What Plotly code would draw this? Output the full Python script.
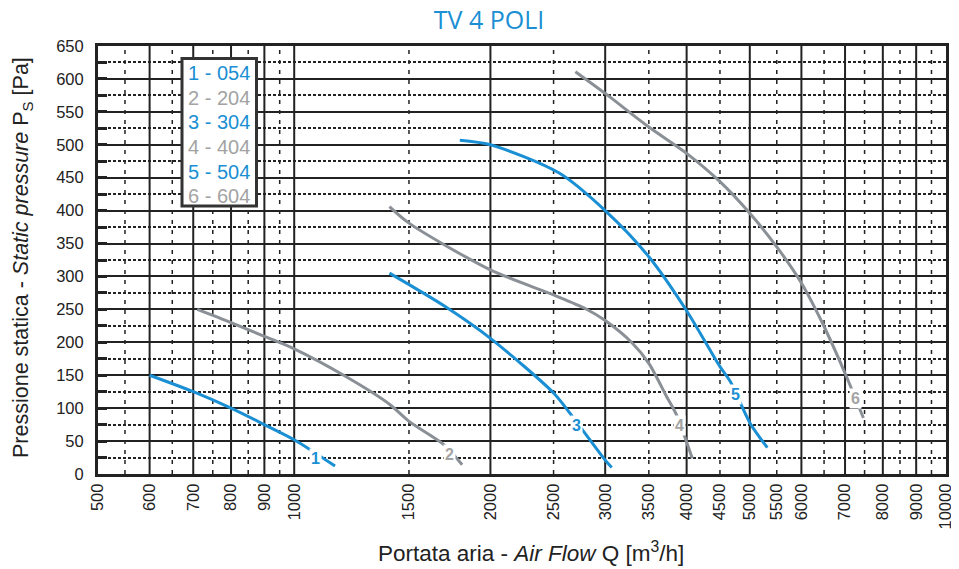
import numpy as np
import plotly.graph_objects as go

# ---------------- data ----------------
x_ticks = [500, 600, 700, 800, 900, 1000, 1500, 2000, 2500, 3000, 3500, 4000,
           4500, 5000, 5500, 6000, 7000, 8000, 9000, 10000]
x_grid_solid = [600, 700, 800, 900, 1000, 2000, 3000, 4000, 5000, 6000, 7000, 8000, 9000]
x_grid_dash = [550, 650, 750, 850, 950, 1500, 2500, 3500, 4500, 5500, 6500, 7500, 8500, 9500]
y_ticks = list(range(0, 651, 50))
y_minor = list(range(25, 651, 50))

names = ["1 - 054", "2 - 204", "3 - 304", "4 - 404", "5 - 504", "6 - 604"]

c1_x = [600, 700, 800, 900, 1000, 1155]
c1_y = [150, 125, 100, 75, 52, 12]
c2_x = [710, 800, 900, 1000, 1200, 1400, 1500, 1700, 1810]
c2_y = [250, 230, 209, 190, 148, 106, 80, 44, 14]
c3_x = [1400, 1700, 2000, 2500, 2650, 3000, 3070]
c3_y = [305, 255, 206, 123, 92, 21, 10]
c4_x = [1400, 1500, 2000, 2500, 2800, 3000, 3300, 3500, 3730, 3850, 4080]
c4_y = [406, 381, 310, 272, 251, 233, 199, 168, 117, 92, 24]
c5_x = [1795, 2000, 2550, 3000, 3500, 4000, 4500, 4670, 5000, 5320]
c5_y = [507, 500, 457, 400, 330, 248, 163, 140, 78, 40]
c6_x = [2700, 3000, 3500, 4000, 4500, 5000, 5500, 6000, 6500, 7000, 7470]
c6_y = [611, 578, 527, 487, 444, 396, 345, 290, 224, 153, 85]

label_x = [1080, 1729, 2715, 3900, 4750, 7270]
label_y = [23, 29, 74, 73, 120, 115]
label_txt = ["1", "2", "3", "4", "5", "6"]

BLUE = "#1a8fd3"
GRAY_LINE = "#8a9096"
GRAY_TXT = "#a3a3a3"
INK = "#222222"

curves = [(c1_x, c1_y), (c2_x, c2_y), (c3_x, c3_y), (c4_x, c4_y), (c5_x, c5_y), (c6_x, c6_y)]
line_cols = [BLUE, GRAY_LINE, BLUE, GRAY_LINE, BLUE, GRAY_LINE]
txt_cols = [BLUE, GRAY_TXT, BLUE, GRAY_TXT, BLUE, GRAY_TXT]

fig = go.Figure()
for (cx, cy), col, nm in zip(curves, line_cols, names):
    fig.add_trace(go.Scatter(x=cx, y=cy, mode="lines", name=nm,
                             line=dict(color=col, width=3, shape="spline", smoothing=0.8),
                             showlegend=False, hoverinfo="x+y+name"))

shapes = []
for v in x_grid_solid:
    shapes.append(dict(type="line", xref="x", yref="paper", x0=v, x1=v, y0=0, y1=1,
                       line=dict(color=INK, width=2), layer="below"))
for v in x_grid_dash:
    shapes.append(dict(type="line", xref="x", yref="paper", x0=v, x1=v, y0=0, y1=1,
                       line=dict(color=INK, width=1.5, dash="4px,6px"), layer="below"))

# page body has an 8px default margin: figure is drawn from screen (8, 8)
OFF = 8
W, H = 959 - OFF, 569 - OFF

# screen pixel -> paper helpers (plot area on screen: 98..946 x 46..474)
def px2paper_x(px):
    return (px - 98) / 848.0
def px2paper_y(py):
    return (474 - py) / 428.0

shapes.append(dict(type="rect", xref="paper", yref="paper",
                   x0=px2paper_x(182), x1=px2paper_x(256.5),
                   y0=px2paper_y(206), y1=px2paper_y(58.5),
                   line=dict(color="#333333", width=3), fillcolor="white", layer="above"))

annotations = []
leg_y = [72.7, 97.5, 122.2, 147.0, 171.7, 196.3]
for nm, col, py in zip(names, txt_cols, leg_y):
    annotations.append(dict(xref="paper", yref="paper", x=px2paper_x(219), y=px2paper_y(py),
                            text=nm, showarrow=False, xanchor="center", yanchor="middle",
                            font=dict(family="Liberation Sans, Arial", size=20, color=col)))

for lx, ly, lt, col in zip(label_x, label_y, label_txt, txt_cols):
    annotations.append(dict(xref="x", yref="y", x=np.log10(lx), y=ly, text="<b>" + lt + "</b>",
                            showarrow=False, xanchor="center", yanchor="middle",
                            bgcolor="white", borderpad=1,
                            font=dict(family="Liberation Sans, Arial", size=16, color=col)))

# axis titles as annotations for exact placement
annotations.append(dict(xref="paper", yref="paper", x=px2paper_x(531), y=px2paper_y(552),
                        text="Portata aria - <i>Air Flow</i> Q [m<sup>3</sup>/h]",
                        showarrow=False, xanchor="center", yanchor="middle",
                        font=dict(family="Liberation Sans, Arial", size=22.5, color=INK)))
annotations.append(dict(xref="paper", yref="paper", x=px2paper_x(22), y=px2paper_y(258),
                        text="Pressione statica - <i>Static pressure</i> P<sub>S</sub> [Pa]",
                        showarrow=False, xanchor="center", yanchor="middle", textangle=-90,
                        font=dict(family="Liberation Sans, Arial", size=21.5, color=INK)))

fig.update_layout(
    width=W, height=H,
    margin=dict(l=98 - OFF, r=13, t=46 - OFF, b=95, autoexpand=False),
    paper_bgcolor="white", plot_bgcolor="white",
    title=dict(text="TV 4 POLI", xref="container", yref="container",
               x=(489 - OFF) / W, xanchor="center",
               y=1 - (20 - OFF) / H, yanchor="middle",
               font=dict(family="Open Sans", size=25, color=BLUE)),
    shapes=shapes, annotations=annotations,
    font=dict(family="Liberation Sans, Arial", color=INK),
)

fig.update_xaxes(
    type="log", range=[np.log10(500), 4], automargin=False,
    tickvals=x_ticks, ticktext=[str(v) for v in x_ticks], tickangle=-90,
    tickfont=dict(size=16.5, color=INK),
    showgrid=False, zeroline=False,
    showline=True, linewidth=3, linecolor=INK, mirror=True,
    ticks="",
)
fig.update_yaxes(
    range=[0, 650], tickvals=y_ticks, automargin=False,
    tickfont=dict(size=16.5, color=INK), ticklabelstandoff=8,
    showgrid=True, gridcolor=INK, gridwidth=2, zeroline=False,
    showline=True, linewidth=3, linecolor=INK, mirror=True,
    ticks="inside", ticklen=9, tickwidth=3, tickcolor=INK,
    minor=dict(tickvals=y_minor, showgrid=True, gridcolor=INK, gridwidth=2, griddash="3px,2px",
               ticks="inside", ticklen=9, tickwidth=3, tickcolor=INK),
)

fig.write_html("out.html")
